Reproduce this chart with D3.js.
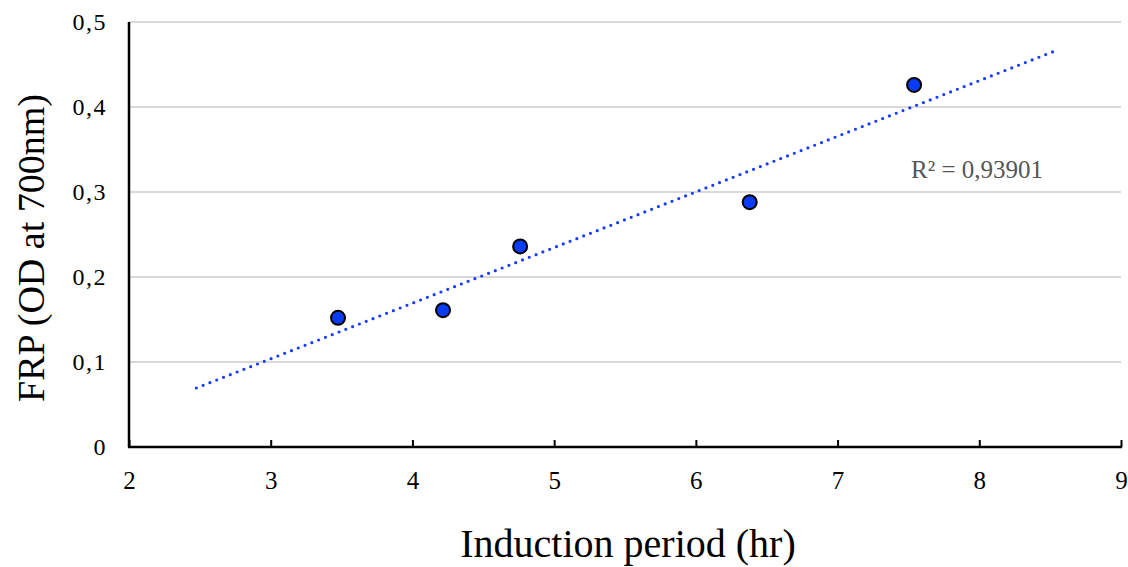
<!DOCTYPE html>
<html>
<head>
<meta charset="utf-8">
<script src="https://cdn.jsdelivr.net/npm/d3@7"></script>
<style>
  body { margin: 0; background: #fff; }
  text { font-family: "Liberation Serif", "Times New Roman", serif; }
</style>
</head>
<body>
<div class="chart"></div>
<script>
// data
const induction = [3.475, 4.216, 4.76, 6.38, 7.54];
const frp = [0.152, 0.161, 0.236, 0.288, 0.426];
const xTicks = [2, 3, 4, 5, 6, 7, 8, 9];
const yTicks = [0, 0.1, 0.2, 0.3, 0.4, 0.5];
const r2Label = "R² = 0,93901";

const W = 1128, H = 567;
const margin = ({ top: 22, right: 7, bottom: 120, left: 129 });
const width = W - margin.left - margin.right;
const height = H - margin.top - margin.bottom;

const svg = d3.select(".chart")
    .append("svg")
    .attr("width", W)
    .attr("height", H);

const g = svg.append("g").attr("transform", `translate(${margin.left},${margin.top})`);

const x = d3.scaleLinear().domain([2, 9]).range([0, width]);
const y = d3.scaleLinear().domain([0, 0.5]).range([height, 0]);
const comma = d => d3.format("")(d).replace(".", ",");

/* gridlines */
g.selectAll(".grid")
    .data(yTicks.filter(d => d > 0))
    .enter()
    .append("line")
    .attr("x1", 0).attr("x2", width)
    .attr("y1", d => y(d)).attr("y2", d => y(d))
    .attr("stroke", "#d9d9d9")
    .attr("stroke-width", 2);

/* y labels */
g.selectAll(".ylab")
    .data(yTicks)
    .enter()
    .append("text")
    .attr("x", -22)
    .attr("y", d => y(d) + 8)
    .attr("text-anchor", "end")
    .attr("font-size", "24px")
    .attr("letter-spacing", "1.5px")
    .attr("fill", "#000")
    .text(d => comma(d));

/* x axis */
const xAxis = g.append("g")
    .attr("transform", `translate(0,${height})`)
    .call(d3.axisBottom(x).tickValues(xTicks).tickSizeInner(-7).tickSizeOuter(0).tickFormat(d3.format("d")));
xAxis.attr("font-family", null);
xAxis.select(".domain").remove();
xAxis.selectAll(".tick line").attr("stroke", "#000").attr("stroke-width", 2);
xAxis.selectAll(".tick text")
    .attr("y", 24)
    .attr("dy", "0.71em")
    .attr("font-size", "25px")
    .attr("fill", "#000");

g.append("line")
    .attr("x1", x(2) - 1).attr("x2", x(9) + 1)
    .attr("y1", y(0)).attr("y2", y(0))
    .attr("stroke", "#000").attr("stroke-width", 2.5);
g.append("line")
    .attr("x1", x(2)).attr("x2", x(2))
    .attr("y1", y(0.5)).attr("y2", y(0))
    .attr("stroke", "#000").attr("stroke-width", 2.5);

/* linear trendline, extended one unit each side */
const mx = d3.mean(induction), my = d3.mean(frp);
const slope = d3.sum(induction, (d, i) => (d - mx) * (frp[i] - my)) / d3.sum(induction, d => (d - mx) * (d - mx));
const icpt = my - slope * mx;
const x0 = d3.min(induction) - 1, x1 = d3.max(induction) + 1;
g.append("line")
    .attr("x1", x(x0)).attr("y1", y(icpt + slope * x0))
    .attr("x2", x(x1)).attr("y2", y(icpt + slope * x1))
    .attr("stroke", "#1a3cff")
    .attr("stroke-width", 3.2)
    .attr("stroke-linecap", "round")
    .attr("stroke-dasharray", "0,7.3");

/* points */
g.selectAll(".dot")
    .data(induction)
    .enter()
    .append("circle")
    .attr("cx", d => x(d))
    .attr("cy", (d, i) => y(frp[i]))
    .attr("r", 7)
    .attr("fill", "#0a3cf5")
    .attr("stroke", "#000")
    .attr("stroke-width", 2);

g.append("text")
    .attr("x", 782)
    .attr("y", 156)
    .attr("font-size", "25px")
    .attr("fill", "#555")
    .text(r2Label);

/* titles */
svg.append("text")
    .attr("x", 628)
    .attr("y", 557)
    .attr("text-anchor", "middle")
    .attr("font-size", "40px")
    .attr("fill", "#000")
    .text("Induction period (hr)");

svg.append("text")
    .attr("transform", "translate(44,248) rotate(-90)")
    .attr("text-anchor", "middle")
    .attr("font-size", "38px")
    .attr("fill", "#000")
    .text("FRP (OD at 700nm)");
</script>
</body>
</html>
